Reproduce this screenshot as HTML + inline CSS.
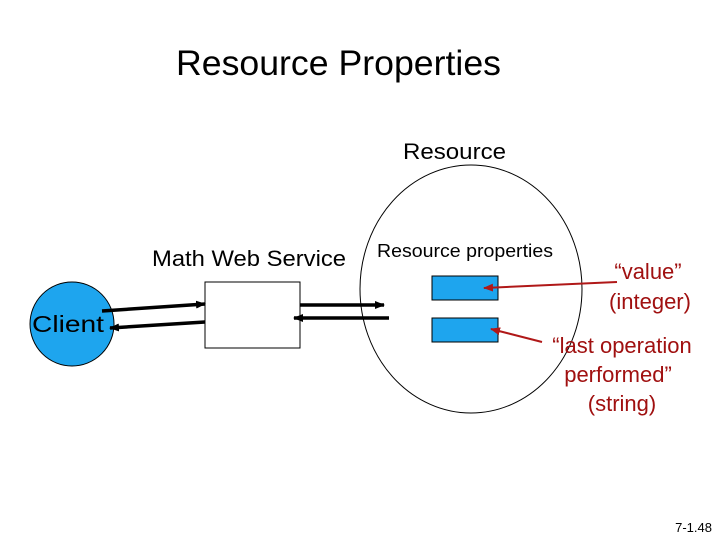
<!DOCTYPE html>
<html><head><meta charset="utf-8"><style>
body{margin:0;background:#fff;}
svg text{font-family:"Liberation Sans",Arial,sans-serif;}
</style></head><body>
<svg width="720" height="540" viewBox="0 0 720 540" xmlns="http://www.w3.org/2000/svg">
<defs>
<marker id="ab" markerWidth="10" markerHeight="8" refX="9" refY="4" orient="auto" markerUnits="userSpaceOnUse"><path d="M0,0 L10,4 L0,8 z" fill="#000"/></marker>
<marker id="ar" markerWidth="10" markerHeight="8" refX="9" refY="4" orient="auto" markerUnits="userSpaceOnUse"><path d="M0,0 L10,4 L0,8 z" fill="#b01818"/></marker>
</defs>
<rect width="720" height="540" fill="#fff"/>
<text x="176" y="75" font-size="35" textLength="325" lengthAdjust="spacingAndGlyphs">Resource Properties</text>
<text x="403" y="159" font-size="22" textLength="103" lengthAdjust="spacingAndGlyphs">Resource</text>
<ellipse cx="471" cy="289" rx="111" ry="124" fill="none" stroke="#000" stroke-width="1"/>
<text x="152" y="266" font-size="22" textLength="194" lengthAdjust="spacingAndGlyphs">Math Web Service</text>
<text x="377" y="257" font-size="18" textLength="176" lengthAdjust="spacingAndGlyphs">Resource properties</text>
<circle cx="72" cy="324" r="42" fill="#1ea5ee" stroke="#000" stroke-width="1"/>
<text x="32" y="332" font-size="23" textLength="72" lengthAdjust="spacingAndGlyphs">Client</text>
<rect x="205" y="282" width="95" height="66" fill="#fff" stroke="#000" stroke-width="1"/>
<line x1="102" y1="311" x2="205" y2="304" stroke="#000" stroke-width="3.5" marker-end="url(#ab)"/>
<line x1="205" y1="322" x2="110" y2="328" stroke="#000" stroke-width="3.5" marker-end="url(#ab)"/>
<line x1="300" y1="305" x2="384" y2="305" stroke="#000" stroke-width="3.5" marker-end="url(#ab)"/>
<line x1="389" y1="318" x2="294" y2="318" stroke="#000" stroke-width="3.5" marker-end="url(#ab)"/>
<rect x="432" y="276" width="66" height="24" fill="#1ea5ee" stroke="#000" stroke-width="1"/>
<rect x="432" y="318" width="66" height="24" fill="#1ea5ee" stroke="#000" stroke-width="1"/>
<line x1="617" y1="282" x2="484" y2="288" stroke="#b01818" stroke-width="2" marker-end="url(#ar)"/>
<line x1="542" y1="342" x2="491" y2="329" stroke="#b01818" stroke-width="2" marker-end="url(#ar)"/>
<g fill="#a01010" font-size="22" text-anchor="middle">
<text x="648" y="279">“value”</text>
<text x="650" y="309">(integer)</text>
<text x="622" y="353">“last operation</text>
<text x="618" y="382">performed”</text>
<text x="622" y="411">(string)</text>
</g>
<text x="712" y="532" font-size="13" text-anchor="end">7-1.48</text>
</svg>
</body></html>
